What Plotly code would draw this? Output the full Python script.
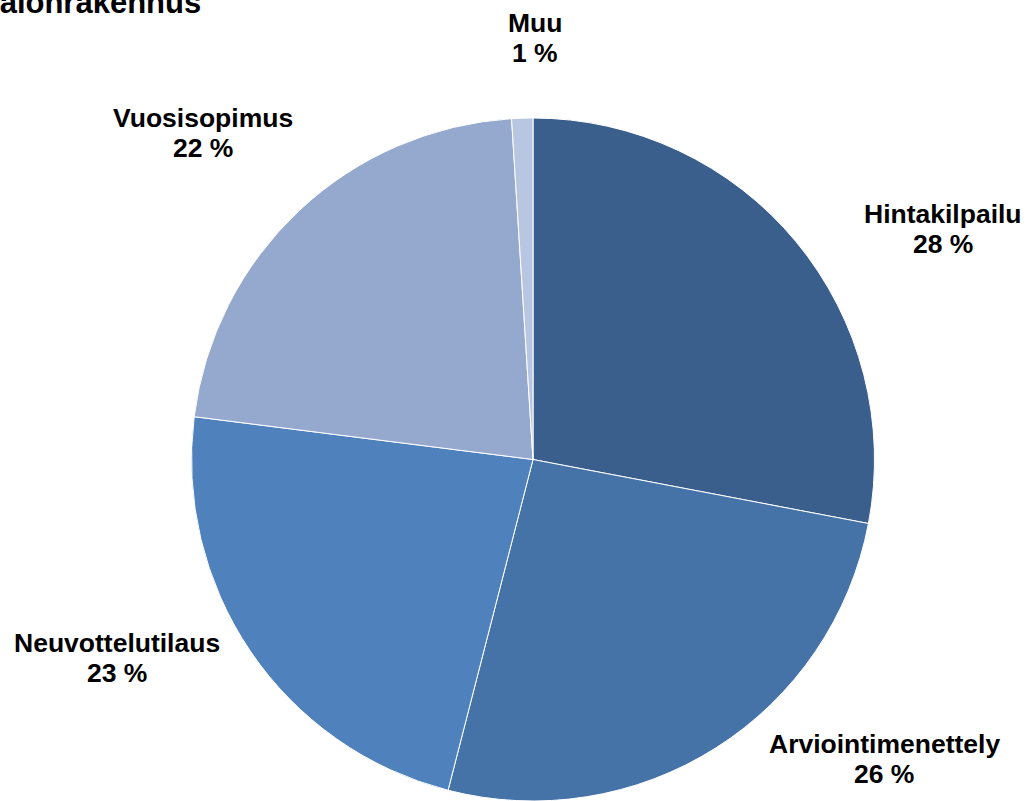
import plotly.graph_objects as go

# ---- data ----
categories = ["Hintakilpailu", "Arviointimenettely", "Neuvottelutilaus", "Vuosisopimus", "Muu"]
values = [28, 26, 23, 22, 1]
title_text = "Talonrakennus"

# ---- style ----
W, H = 1027, 801
colors = ["#3B5F8D", "#4573A8", "#4F81BD", "#95A9CF", "#B9C6E1"]
font_family = "Liberation Sans, Arial, sans-serif"
label_size = 26.5
# label block positions in pixels (x center, y of first line cap center)
label_px = {
    "Hintakilpailu": (943, 214),
    "Arviointimenettely": (884, 744),
    "Neuvottelutilaus": (117, 643),
    "Vuosisopimus": (203, 118),
    "Muu": (535, 23),
}
line_gap = 30

fig = go.Figure()
fig.add_trace(go.Pie(
    labels=categories,
    values=values,
    sort=False,
    direction="clockwise",
    rotation=0,
    textinfo="none",
    hoverinfo="label+percent",
    marker=dict(colors=colors, line=dict(color="white", width=1)),
    domain=dict(x=[191 / W, 875 / W], y=[0, 683 / H]),
    showlegend=False,
))

total = sum(values)
annotations = []
for cat, val in zip(categories, values):
    px, py = label_px[cat]
    pct = round(val / total * 100)
    for i, txt in enumerate([cat, f"{pct} %"]):
        yy = py + i * line_gap
        annotations.append(dict(
            text=f"<b>{txt}</b>", x=px / W, y=1 - yy / H, xref="paper", yref="paper",
            xanchor="center", yanchor="middle", showarrow=False,
            font=dict(family=font_family, size=label_size, color="black"),
        ))

annotations.append(dict(
    text=f"<b>{title_text}</b>", x=-19 / W, y=1 - 2 / H, xref="paper", yref="paper",
    xanchor="left", yanchor="middle", showarrow=False,
    font=dict(family=font_family, size=31, color="black"),
))

fig.update_layout(
    width=W, height=H,
    margin=dict(l=0, r=0, t=0, b=0),
    paper_bgcolor="white", plot_bgcolor="white",
    annotations=annotations,
)

fig.write_html(
    "out.html",
    config={"displayModeBar": False},
    post_script="document.body.style.margin='0';document.body.style.overflow='hidden';",
)
